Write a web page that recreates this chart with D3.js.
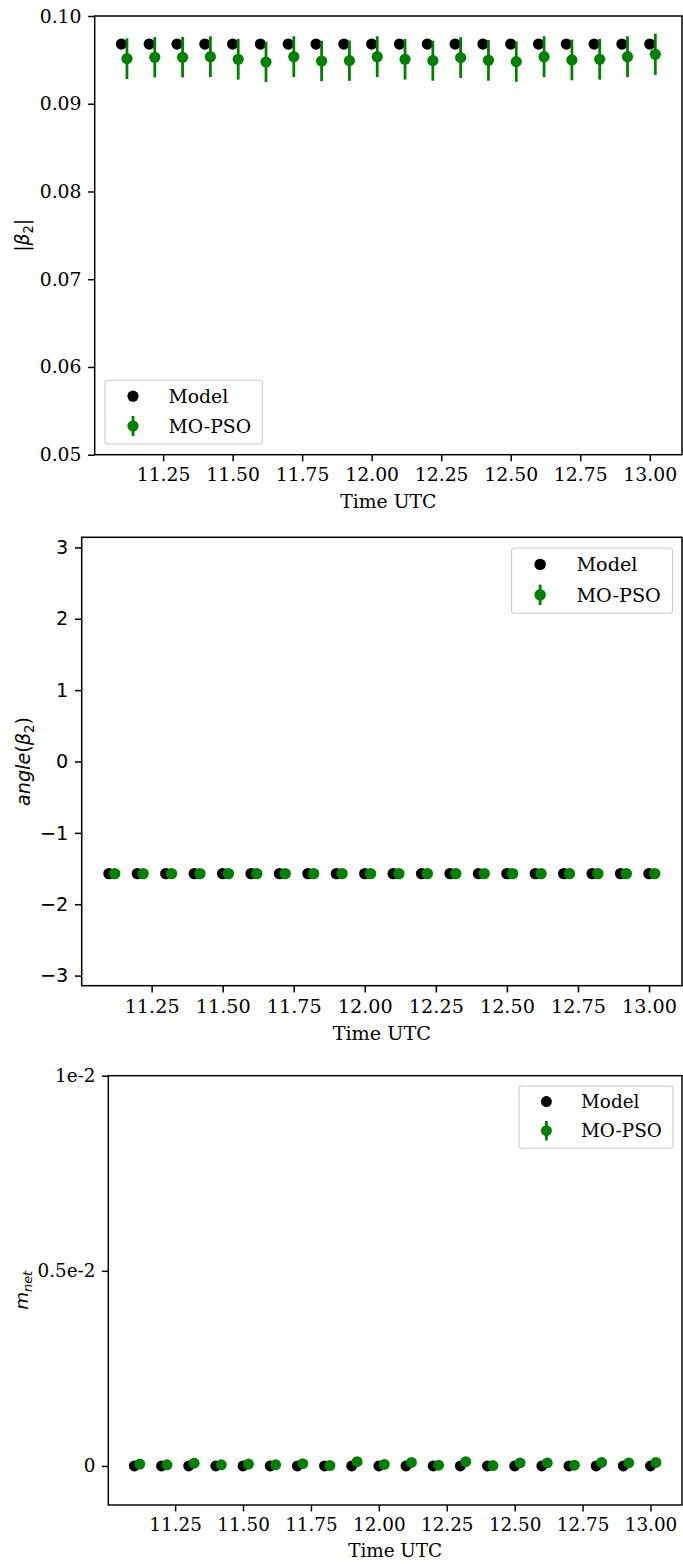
<!DOCTYPE html>
<html><head><meta charset="utf-8">
<script src="https://cdn.jsdelivr.net/npm/d3@7"></script>
<style>body{margin:0;background:#fff}</style>
</head><body><svg id="c" width="683" height="1564" xmlns="http://www.w3.org/2000/svg"></svg>
<script>
// ---------- data ----------
const times    = [11.1, 11.2, 11.3, 11.4, 11.5, 11.6, 11.7, 11.8, 11.9, 12.0, 12.1, 12.2, 12.3, 12.4, 12.5, 12.6, 12.7, 12.8, 12.9, 13.0];
const psoTimes = [11.12, 11.22, 11.32, 11.42, 11.52, 11.62, 11.72, 11.82, 11.92, 12.02, 12.12, 12.22, 12.32, 12.42, 12.52, 12.62, 12.72, 12.82, 12.92, 13.02];

const beta2Model = [0.0968, 0.0968, 0.0968, 0.0968, 0.0968, 0.0968, 0.0968, 0.0968, 0.0968, 0.0968, 0.0968, 0.0968, 0.0968, 0.0968, 0.0968, 0.0968, 0.0968, 0.0968, 0.0968, 0.0968];
const beta2Pso   = [0.09514, 0.0953, 0.0953, 0.09536, 0.09507, 0.09476, 0.09536, 0.09487, 0.09491, 0.09536, 0.09507, 0.09491, 0.09526, 0.09495, 0.0948, 0.09536, 0.09499, 0.09507, 0.09536, 0.09564];
const beta2Err   = [0.00232, 0.0023, 0.0023, 0.00232, 0.00232, 0.00228, 0.00233, 0.0023, 0.0023, 0.00233, 0.00232, 0.00228, 0.00232, 0.00232, 0.0023, 0.00233, 0.00232, 0.00232, 0.00233, 0.00235];

const angleModel = [-1.5708, -1.5708, -1.5708, -1.5708, -1.5708, -1.5708, -1.5708, -1.5708, -1.5708, -1.5708, -1.5708, -1.5708, -1.5708, -1.5708, -1.5708, -1.5708, -1.5708, -1.5708, -1.5708, -1.5708];
const anglePso   = [-1.5708, -1.5708, -1.5708, -1.5708, -1.5708, -1.5708, -1.5708, -1.5708, -1.5708, -1.5708, -1.5708, -1.5708, -1.5708, -1.5708, -1.5708, -1.5708, -1.5708, -1.5708, -1.5708, -1.5708];
const angleErr   = [0.01, 0.01, 0.01, 0.01, 0.01, 0.01, 0.01, 0.01, 0.01, 0.01, 0.01, 0.01, 0.01, 0.01, 0.01, 0.01, 0.01, 0.01, 0.01, 0.01];

const mnetModel = [0, 0, 0, 0, 0, 0, 0, 0, 0, 0, 0, 0, 0, 0, 0, 0, 0, 0, 0, 0];
const mnetPso   = [0.00005, 0.00003, 0.00007, 0.00003, 0.00005, 0.00003, 0.00006, 0.00001, 0.00011, 0.00004, 0.00009, 0.00002, 0.00011, 0.00001, 0.00008, 0.00008, 0.00002, 0.00009, 0.00008, 0.00009];
const mnetErr   = [0.00002, 0.00002, 0.00002, 0.00002, 0.00002, 0.00002, 0.00002, 0.00002, 0.00002, 0.00002, 0.00002, 0.00002, 0.00002, 0.00002, 0.00002, 0.00002, 0.00002, 0.00002, 0.00002, 0.00002];

const xTicks = [11.25, 11.5, 11.75, 12.0, 12.25, 12.5, 12.75, 13.0];
const beta2Ticks = [0.05, 0.06, 0.07, 0.08, 0.09, 0.10];
const angleTicks = [-3, -2, -1, 0, 1, 2, 3];
const mnetTicks = [0, 0.005, 0.01];
const mnetTickLabels = ["0", "0.5e-2", "1e-2"];
const legendLabels = ["Model", "MO-PSO"];
const xLabel = "Time UTC";

// ---------- layout ----------
const BASE_FONT = 18.8;
const svg = d3.select("#c");
const serif = "'DejaVu Serif', serif";
const sans = "'DejaVu Sans', sans-serif";

const panels = [
  { left: 94.7, right: 682, top: 16, bottom: 454.7, s: 1.0,
    model: beta2Model, pso: beta2Pso, err: beta2Err,
    yDomain: [0.05, 0.10], yTicks: beta2Ticks, yFmt: d3.format(".2f"), yFont: serif,
    ylabel: "beta", legend: "lowerleft" },
  { left: 81.7, right: 682, top: 537.3, bottom: 985.7, s: 1.022,
    model: angleModel, pso: anglePso, err: angleErr,
    yDomain: [-Math.PI, Math.PI], yTicks: angleTicks, yFmt: d => (d < 0 ? "\u2212" + Math.abs(d) : String(d)), yFont: sans,
    ylabel: "angle", legend: "upperright" },
  { left: 108.3, right: 682, top: 1075.7, bottom: 1505, s: 0.977,
    model: mnetModel, pso: mnetPso, err: mnetErr,
    yDomain: [-0.001, 0.01], yTicks: mnetTicks, yFmt: d => mnetTickLabels[mnetTicks.indexOf(d)], yFont: serif,
    ylabel: "mnet", legend: "upperright" }
];

const allT = times.concat(psoTimes);
const [tmin, tmax] = d3.extent(allT);
const pad = (tmax - tmin) * 0.05;

panels.forEach(p => {
  const s = p.s;
  const fs = BASE_FONT * s;
  const lw = 1.5 * s;
  const tick = 6.6 * s;
  const r = 5.6 * s;
  const g = svg.append("g");

  const x = d3.scaleLinear().domain([tmin - pad, tmax + pad]).range([p.left, p.right]);
  const y = d3.scaleLinear().domain(p.yDomain).range([p.bottom, p.top]);

  // data: model
  g.append("g").selectAll("circle").data(times).join("circle")
    .attr("cx", (d) => x(d)).attr("cy", (d, i) => y(p.model[i])).attr("r", r).attr("fill", "#000");
  // pso error bars
  g.append("g").selectAll("line").data(psoTimes).join("line")
    .attr("x1", d => x(d)).attr("x2", d => x(d))
    .attr("y1", (d, i) => y(p.pso[i] - p.err[i])).attr("y2", (d, i) => y(p.pso[i] + p.err[i]))
    .attr("stroke", "#008000").attr("stroke-width", 2.8 * s);
  g.append("g").selectAll("circle").data(psoTimes).join("circle")
    .attr("cx", d => x(d)).attr("cy", (d, i) => y(p.pso[i])).attr("r", r).attr("fill", "#008000");

  // axes
  const xa = g.append("g").attr("transform", `translate(0,${p.bottom})`)
    .call(d3.axisBottom(x).tickValues(xTicks).tickFormat(d3.format(".2f")).tickSize(tick).tickSizeOuter(0).tickPadding(6.6 * s));
  const ya = g.append("g").attr("transform", `translate(${p.left},0)`)
    .call(d3.axisLeft(y).tickValues(p.yTicks).tickFormat(p.yFmt).tickSize(tick).tickSizeOuter(0).tickPadding(6.6 * s));
  [xa, ya].forEach(a => {
    a.select(".domain").remove();
    a.selectAll("line").attr("stroke", "#000").attr("stroke-width", lw);
    a.selectAll("text").attr("fill", "#000").style("font-size", fs + "px").style("font-family", serif);
  });
  ya.selectAll("text").style("font-family", p.yFont);

  // frame
  g.append("rect").attr("x", p.left).attr("y", p.top)
    .attr("width", p.right - p.left).attr("height", p.bottom - p.top)
    .attr("fill", "none").attr("stroke", "#000").attr("stroke-width", lw);

  // x label
  g.append("text").attr("x", (p.left + p.right) / 2).attr("y", p.bottom + 53 * s)
    .attr("text-anchor", "middle").style("font-family", serif).style("font-size", fs + "px").text(xLabel);

  // y label
  const cy = (p.top + p.bottom) / 2;
  const yl = g.append("text").attr("transform", `translate(${29 * s},${cy}) rotate(-90)`)
    .attr("text-anchor", "middle").style("font-family", sans).style("font-size", fs + "px");
  const drop = 0.22 * fs;
  // parts: [text, italic, subscript]
  let parts;
  if (p.ylabel === "beta") parts = [["|", false, false], ["\u03B2", true, false], ["2", false, true], ["|", false, false]];
  else if (p.ylabel === "angle") parts = [["angle", true, false], ["(", false, false], ["\u03B2", true, false], ["2", false, true], [")", false, false]];
  else parts = [["m", true, false], ["net", true, true]];
  let prevSub = false;
  parts.forEach(([t, it, sb]) => {
    const ts = yl.append("tspan").style("font-style", it ? "italic" : "normal").text(t);
    if (sb) { ts.attr("dy", drop).style("font-size", (fs * 0.7) + "px"); }
    else if (prevSub) { ts.attr("dy", -drop); }
    prevSub = sb;
  });

  // legend
  const bw = 157.5 * s, bh = 63.8 * s;
  let bx, by;
  if (p.legend === "lowerleft") { bx = p.left + 10.3 * s; by = p.bottom - 10.7 * s - bh; }
  else { bx = p.right - 9.3 * s - bw; by = p.top + 10.5 * s; }
  const lg = g.append("g").attr("transform", `translate(${bx},${by})`);
  lg.append("rect").attr("width", bw).attr("height", bh).attr("rx", 3 * s)
    .attr("fill", "#fff").attr("fill-opacity", 0.8).attr("stroke", "#cccccc").attr("stroke-width", 1.1 * s);
  const rows = [16 * s, 45.8 * s];
  const mx = 28 * s, tx = 63.5 * s;
  lg.append("circle").attr("cx", mx).attr("cy", rows[0]).attr("r", r).attr("fill", "#000");
  lg.append("line").attr("x1", mx).attr("x2", mx).attr("y1", rows[1] - 10 * s).attr("y2", rows[1] + 10 * s)
    .attr("stroke", "#008000").attr("stroke-width", 2.8 * s);
  lg.append("circle").attr("cx", mx).attr("cy", rows[1]).attr("r", r).attr("fill", "#008000");
  legendLabels.forEach((l, i) => {
    lg.append("text").attr("x", tx).attr("y", rows[i]).attr("dy", "0.36em")
      .style("font-family", serif).style("font-size", fs + "px").text(l);
  });
});
</script>
</body></html>
